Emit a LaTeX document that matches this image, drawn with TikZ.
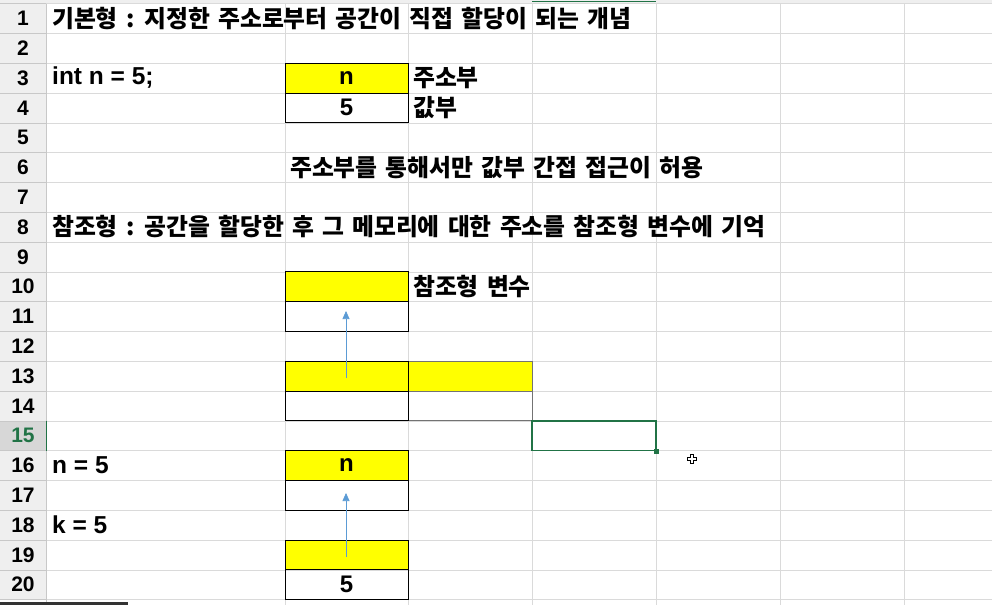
\documentclass[tikz,border=0pt]{standalone}
\usepackage{fontspec}
\setmainfont{Liberation Sans}
\newfontfamily\kr{Noto Sans CJK KR}[WordSpace=1.5]
\usetikzlibrary{arrows.meta}
\definecolor{gridc}{HTML}{DADADA}
\definecolor{hdr}{HTML}{EFEFEF}
\definecolor{hdrline}{HTML}{C8C8C8}
\definecolor{hdrsel}{HTML}{D7D7D7}
\definecolor{xlgreen}{HTML}{217346}
\definecolor{arrowc}{HTML}{5B9BD5}
\definecolor{yel}{HTML}{FFFF00}
\tikzset{
  cellbox/.style={draw=black, line width=0.8pt, minimum width=123pt, minimum height=29.8pt, inner sep=0pt, outer sep=0pt, font=\fontsize{24}{26}\selectfont\bfseries},
  krtext/.style={anchor=west, inner sep=0pt, font=\kr\fontsize{23.8}{26}\selectfont\bfseries},
  lattext/.style={anchor=west, inner sep=0pt, font=\fontsize{24.5}{26}\selectfont\bfseries},
  rownum/.style={inner sep=0pt, font=\fontsize{21}{23}\selectfont\bfseries},
  refarrow/.style={draw=arrowc, line width=0.7pt, -{Triangle[length=8pt,width=7pt]}}
}
\begin{document}
\begin{tikzpicture}[x=1pt,y=-1pt]
\useasboundingbox (0,0) rectangle (992,605);
\fill[white] (0,0) rectangle (992,605);
% column header strip
\fill[hdr] (0,0) rectangle (992,3.5);
\draw[hdrline] (0,3.5) -- (992,3.5);
\draw[xlgreen, line width=1.5pt] (532,1.5) -- (656,1.5);
% row header
\fill[hdr] (0,3.5) rectangle (46,599.5);
\fill[hdrsel] (0,420.7) rectangle (46,450.5);
% grid
\foreach \i in {0,...,20} {
  \draw[gridc] (46,{3.5+\i*29.8}) -- (992,{3.5+\i*29.8});
  \draw[hdrline] (0,{3.5+\i*29.8}) -- (46,{3.5+\i*29.8});
}
\foreach \x in {285,408,532,656,780,904} {
  \draw[gridc] (\x,3.5) -- (\x,605);
}
\draw[hdrline] (46,3.5) -- (46,605);
\draw[xlgreen, line width=1pt] (46,420.7) -- (46,450.5);
% row numbers
\foreach \i in {1,...,20} {
  \ifnum\i=15
    \node[rownum, text=xlgreen] (r\i) at (23,{3.5+(\i-0.5)*29.8}) {\i};
  \else
    \node[rownum] (r\i) at (23,{3.5+(\i-0.5)*29.8}) {\i};
  \fi
}
% scrollbar
\fill[black!80] (0,601.5) rectangle (128,605);
% texts
\node[krtext] (t1) at (52,18.4) {기본형 : 지정한 주소로부터 공간이 직접 할당이 되는 개념};
\node[lattext] (t3) at (52,78.0) {int n = 5;};
\node[krtext] (t3c) at (413,78.0) {주소부};
\node[krtext] (t4c) at (413,107.8) {값부};
\node[krtext] (t6) at (290,167.4) {주소부를 통해서만 값부 간접 접근이 허용};
\node[krtext] (t8) at (52,227.0) {참조형 : 공간을 할당한 후 그 메모리에 대한 주소를 참조형 변수에 기억};
\node[krtext] (t10c) at (413,286.6) {참조형 변수};
\node[lattext] (t16) at (52,465.4) {n = 5};
\node[lattext] (t18) at (52,525.0) {k = 5};
% boxes
\node[cellbox, fill=yel] (b3) at (346.5,78.0) {n};
\node[cellbox] (b4) at (346.5,107.8) {5};
\node[cellbox, fill=yel] (b10) at (346.5,286.6) {};
\node[cellbox] (b11) at (346.5,316.4) {};
\node[cellbox, fill=yel] (b13) at (346.5,376.0) {};
\node[cellbox] (b14) at (346.5,405.8) {};
\node[cellbox, fill=yel, draw=black!55, minimum width=124pt] (c13) at (470,376.0) {};
\node[cellbox, draw=black!55, minimum width=124pt] (c14) at (470,405.8) {};
\draw[black, line width=0.8pt] (408,361.1) -- (408,420.7);
\draw[black, line width=0.8pt] (285,361.1) -- (408,361.1);
\node[cellbox, fill=yel] (b16) at (346.5,465.4) {n};
\node[cellbox] (b17) at (346.5,495.2) {};
\node[cellbox, fill=yel] (b19) at (346.5,554.8) {};
\node[cellbox] (b20) at (346.5,584.6) {5};
% selected cell
\node[draw=xlgreen, line width=1.8pt, minimum width=124pt, minimum height=29.8pt, inner sep=0pt] (d15) at (594,435.6) {};
\node[fill=xlgreen, minimum size=5pt, inner sep=0pt] (handle) at (d15.south east) {};
% arrows
\coordinate (a1s) at (346,378);
\coordinate (a1e) at (346,311);
\coordinate (a2s) at (346,557);
\coordinate (a2e) at (346,493);
\draw[refarrow] (a1s) -- (a1e);
\draw[refarrow] (a2s) -- (a2e);
% cursor
\filldraw[fill=white, draw=black, line width=0.8pt]
  (690.5,454) -- (693.5,454) -- (693.5,457) -- (696.5,457) -- (696.5,460) -- (693.5,460) -- (693.5,463) -- (690.5,463) -- (690.5,460) -- (687.5,460) -- (687.5,457) -- (690.5,457) -- cycle;
\end{tikzpicture}
\end{document}
